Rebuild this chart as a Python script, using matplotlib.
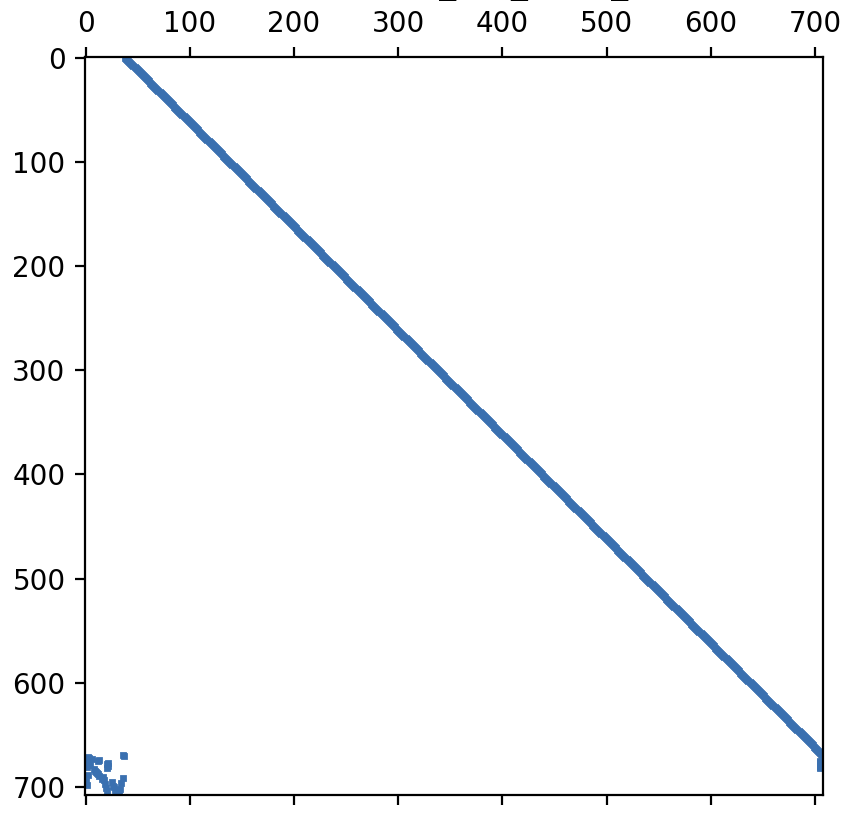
import numpy as np
import matplotlib
matplotlib.use("Agg")
import matplotlib.pyplot as plt

# matrix size and the shifted main band (row i -> column i + 38)
n = 708
band_offset = 38
band_rows = np.arange(0, n - band_offset)

# scattered entries in the last rows (wrap-around block, bottom left)
tail_rows = [669, 670, 671, 672, 673, 674, 674, 675, 676, 677, 678, 679, 680,
             681, 682, 683, 684, 685, 686, 687, 688, 689, 690, 691, 692, 693,
             694, 695, 696, 697, 698, 699, 700, 701, 702, 703, 704, 705, 706, 707]
tail_cols = [36, 37, 2, 3, 6, 2, 13, 12, 3, 22, 21, 4, 22,
             1, 21, 8, 9, 10, 11, 12, 2, 13, 17, 36, 16, 18,
             0, 25, 34, 19, 1, 26, 27, 20, 33, 28, 21, 32, 29, 30]

# short pieces near the right edge under the band end
edge_rows = [675, 676, 680, 681, 682]
edge_cols = [705, 705, 705, 705, 705]

M = np.zeros((n, n))
M[band_rows, band_rows + band_offset] = 1
M[tail_rows, tail_cols] = 1
M[edge_rows, edge_cols] = 1

fig = plt.figure(figsize=(4.26, 4.13), dpi=200)
ax = fig.add_axes([85 / 852, 31 / 826, 738 / 852, 738 / 826])
ax.spy(M, markersize=1.5, color="#3a70b0")
ax.set_title("Matrix A: mesh_ord_node_ranks")

fig.savefig("out.png", dpi=200)
